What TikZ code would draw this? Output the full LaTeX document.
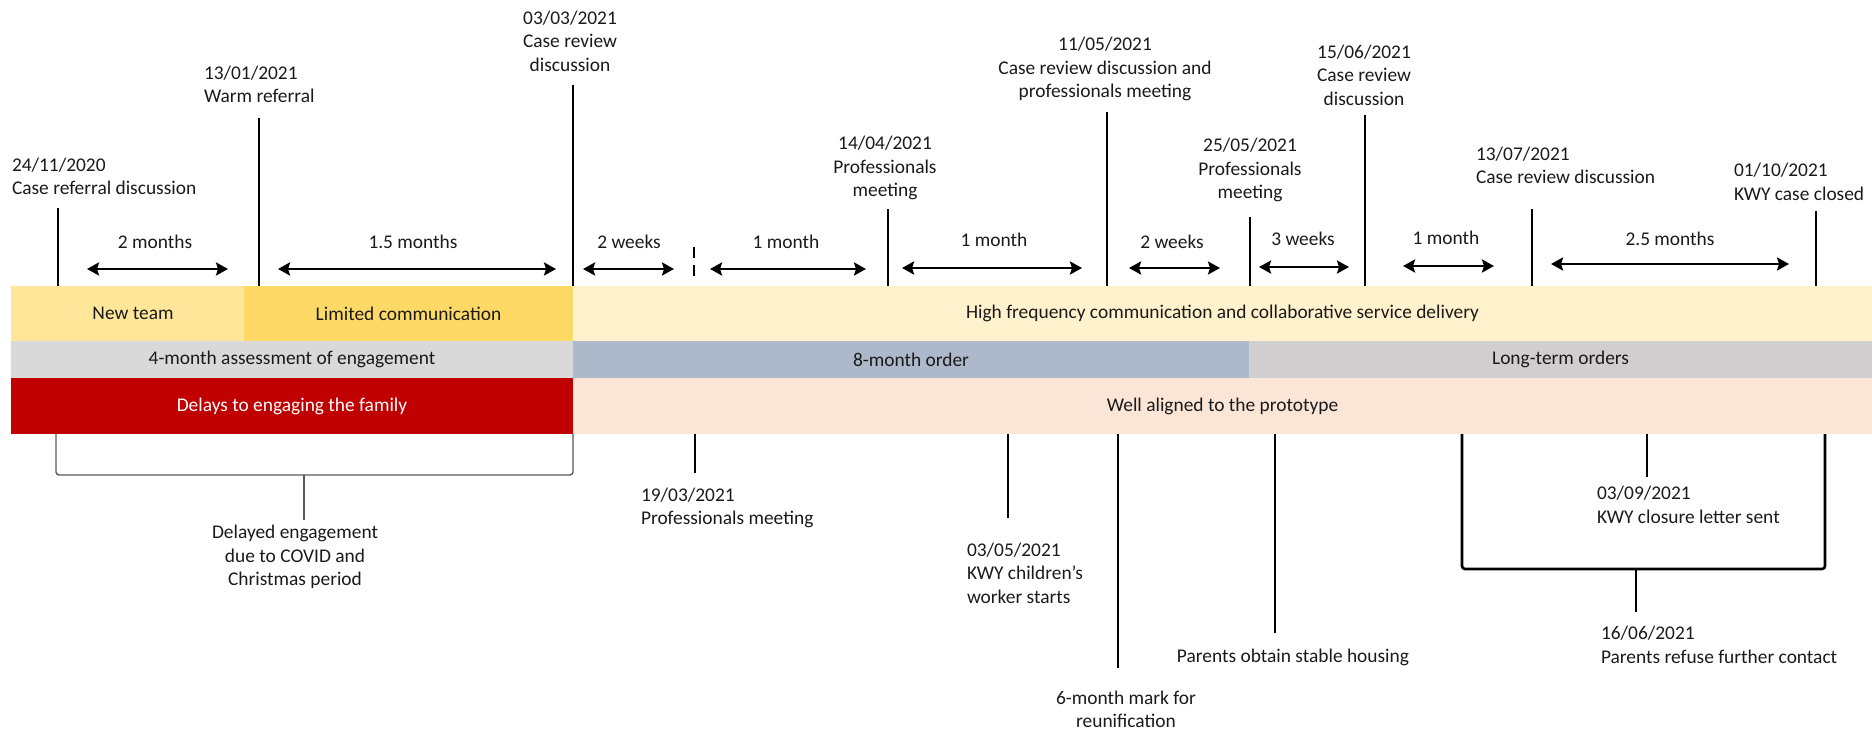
\documentclass[tikz,border=0pt]{standalone}
\usepackage{fontspec}
\setmainfont{Carlito}
\usetikzlibrary{arrows.meta}

\definecolor{newteamc}{HTML}{FFE699}
\definecolor{limitedc}{HTML}{FFD966}
\definecolor{highc}{HTML}{FFF2CC}
\definecolor{assessc}{HTML}{D9D9D9}
\definecolor{orderc}{HTML}{ADB9CA}
\definecolor{longc}{HTML}{D0CECE}
\definecolor{delayc}{HTML}{C00000}
\definecolor{alignc}{HTML}{FBE5D6}
\definecolor{txt}{HTML}{1A1A1A}

\begin{document}
\begin{tikzpicture}[x=0.5pt,y=-0.5pt,
  lbl/.style={inner sep=0pt, outer sep=0pt, text=txt, font=\fontsize{9.7}{11.8}\selectfont},
  band/.style={lbl, anchor=north west, draw=none, minimum height=#1},
  tick/.style={line width=1.3pt, black},
  dur/.style={line width=1.3pt, black, {Stealth[length=6pt,width=6.5pt,inset=1pt]}-{Stealth[length=6pt,width=6.5pt,inset=1pt]}},
  graybrace/.style={line width=0.7pt, black!65, rounded corners=1.5pt},
  blackbrace/.style={line width=1.3pt, black, rounded corners=1.5pt}]
\useasboundingbox (0,0) rectangle (1872,732);

% ---- phase bands ----
\node[band=27.5pt, fill=newteamc, minimum width=116.5pt] (newteam) at (11,286) {\hspace*{5.5pt}New team};
\node[band=27.5pt, fill=limitedc, minimum width=164.5pt] (limited) at (244,286) {Limited communication};
\node[band=27.5pt, fill=highc, minimum width=649.5pt] (high) at (573,286) {High frequency communication and collaborative service delivery};
\node[band=18.5pt, fill=assessc, minimum width=281pt] (assess) at (11,341) {4-month assessment of engagement};
\node[band=18.5pt, fill=orderc, minimum width=338pt] (order) at (573,341) {8-month order};
\node[band=18.5pt, fill=longc, minimum width=311.5pt] (longterm) at (1249,341) {Long-term orders};
\node[band=28pt, fill=delayc, minimum width=281pt, text=white] (delays) at (11,378) {Delays to engaging the family};
\node[band=28pt, fill=alignc, minimum width=649.5pt] (aligned) at (573,378) {Well aligned to the prototype};

% ---- events above the timeline ----
\coordinate (e1) at (58,208);
\coordinate (e2) at (259,118);
\coordinate (e3) at (573,85);
\coordinate (e4) at (888,209);
\coordinate (e5) at (1107,112);
\coordinate (e6) at (1250,217);
\coordinate (e7) at (1365,115);
\coordinate (e8) at (1532,209);
\coordinate (e9) at (1816,211);

\draw[tick] (e1) -- (e1 |- newteam.north);
\draw[tick] (e2) -- (e2 |- limited.north);
\draw[tick] (e3) -- (e3 |- high.north);
\foreach \e in {e4,e5,e6,e7,e8,e9} \draw[tick] (\e) -- (\e |- high.north);

\node[lbl, align=left, anchor=west] (l1) at (12,176.5) {24/11/2020\\Case referral discussion};
\node[lbl, align=left, anchor=west] (l2) at (204,84.5) {13/01/2021\\Warm referral};
\node[lbl, align=center] (l3) at (570,41) {03/03/2021\\Case review\\discussion};
\node[lbl, align=center] (l4) at (885,168) {14/04/2021\\Professionals\\meeting};
\node[lbl, align=center] (l5) at (1105,69) {11/05/2021\\Case review discussion and\\professionals meeting};
\node[lbl, align=center] (l6) at (1250,170) {25/05/2021\\Professionals\\meeting};
\node[lbl, align=center] (l7) at (1364,75) {15/06/2021\\Case review\\discussion};
\node[lbl, align=left, anchor=west] (l8) at (1476,165.5) {13/07/2021\\Case review discussion};
\node[lbl, align=left, anchor=west] (l9) at (1734,182) {01/10/2021\\KWY case closed};

% dashed marker for 19/03/2021
\coordinate (m1a) at (694,247);
\coordinate (m1b) at (694,278);
\draw[line width=1.3pt, dash pattern=on 5.5pt off 3.5pt] (m1a) -- (m1b);

% ---- durations between events ----
\foreach \n/\xa/\xb/\y/\xl/\yl/\t in {
  1/87/228/269/155/242/2 months,
  2/278/556/269/413/242/1.5 months,
  3/583/674/269/629/242/2 weeks,
  4/710/866/269/786/242/1 month,
  5/902/1082/268/994/240/1 month,
  6/1129/1220/268/1172/242/2 weeks,
  7/1259/1349/267/1303/239/3 weeks,
  8/1403/1494/266/1446/238/1 month,
  9/1551/1789/264/1670/239/2.5 months}{
  \coordinate (d\n a) at (\xa,\y);
  \coordinate (d\n b) at (\xb,\y);
  \draw[dur] (d\n a) -- (d\n b);
  \node[lbl] (d\n t) at (\xl,\yl) {\t};
}

% ---- events below the timeline ----
\coordinate (b1) at (695,473);
\coordinate (b2) at (1008,518);
\coordinate (b3) at (1118,668);
\coordinate (b4) at (1275,633);
\coordinate (b5) at (1647,477);
\draw[tick] (b1 |- aligned.south) -- (b1);
\draw[tick] (b2 |- aligned.south) -- (b2);
\draw[tick] (b3 |- aligned.south) -- (b3);
\draw[tick] (b4 |- aligned.south) -- (b4);
\draw[tick] (b5 |- aligned.south) -- (b5);

\node[lbl, align=left, anchor=west] (k1) at (641,508) {19/03/2021\\Professionals meeting};
\node[lbl, align=left, anchor=west] (k2) at (967,573) {03/05/2021\\KWY children’s\\worker starts};
\node[lbl, align=center] (k3) at (1126,709.5) {6-month mark for\\reunification};
\node[lbl, align=center] (k4) at (1293,657) {Parents obtain stable housing};
\node[lbl, align=left, anchor=west] (k5) at (1597,505) {03/09/2021\\KWY closure letter sent};

% bracket over the delayed period
\coordinate (g1) at (56,475);
\coordinate (g2) at (573,475);
\coordinate (g3) at (304,475);
\coordinate (g4) at (304,520);
\draw[graybrace] (g1 |- delays.south) -- (g1) -- (g2) -- (g2 |- delays.south);
\draw[graybrace] (g3) -- (g4);
\node[lbl, align=center] (k6) at (295,557) {Delayed engagement\\due to COVID and\\Christmas period};

% bracket over the period after contact was refused
\coordinate (h1) at (1462,569);
\coordinate (h2) at (1825,569);
\coordinate (h3) at (1636,569);
\coordinate (h4) at (1636,612);
\draw[blackbrace] (h1 |- aligned.south) -- (h1) -- (h2) -- (h2 |- aligned.south);
\draw[tick] (h3) -- (h4);
\node[lbl, align=left, anchor=west] (k7) at (1601,645) {16/06/2021\\Parents refuse further contact};
\end{tikzpicture}
\end{document}
